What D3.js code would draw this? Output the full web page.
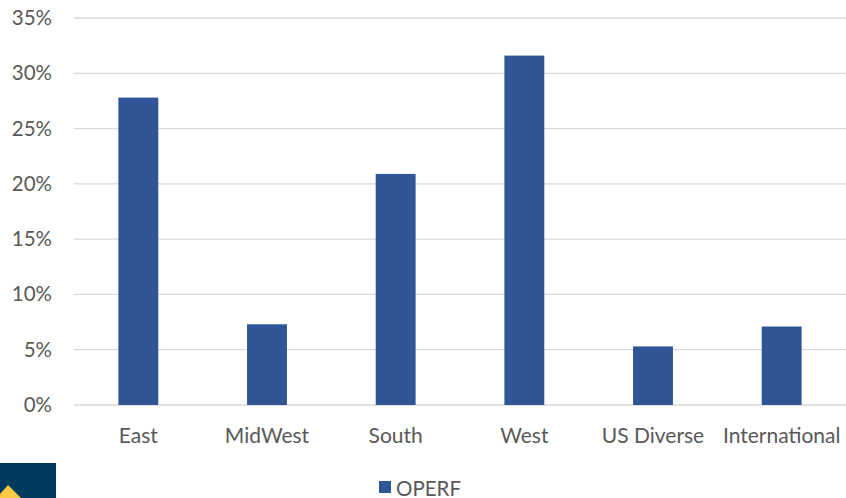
<!DOCTYPE html>
<html lang="en">
<head>
  <meta charset="UTF-8" />
  <title>OPERF by region</title>
  <script src="https://d3js.org/d3.v7.min.js"></script>
  <style>
    body { margin: 0; background: #fff; }
    svg { display: block; font-family: Lato, "Open Sans", sans-serif; }
    .tick text { fill: #595959; }
  </style>
</head>
<body>
  <svg id="chart" width="846" height="498"></svg>
  <script>
    // data
    const regions = ["East", "MidWest", "South", "West", "US Diverse", "International"];
    const operf = [0.278, 0.073, 0.209, 0.316, 0.053, 0.071];
    const yTicks = [0, 0.05, 0.10, 0.15, 0.20, 0.25, 0.30, 0.35];
    const seriesName = "OPERF";

    const svg = d3.select("#chart");
    const plotLeft = 74, plotRight = 846, plotTop = 18, plotBottom = 405;
    const barColor = "#2F5597";

    const x = d3.scaleBand().domain(regions).range([plotLeft, plotRight]).paddingInner(0.69).paddingOuter(0.345);
    const y = d3.scaleLinear().domain([0, 0.35]).range([plotBottom, plotTop]);

    // gridlines
    svg.append("g")
      .selectAll("line")
      .data(yTicks)
      .join("line")
      .attr("x1", plotLeft).attr("x2", plotRight)
      .attr("y1", d => y(d)).attr("y2", d => y(d))
      .attr("stroke", "#d9d9d9").attr("stroke-width", 1.3);

    // y labels
    const yAxis = svg.append("g")
      .attr("transform", `translate(52,0)`)
      .call(d3.axisLeft(y).tickValues(yTicks).tickFormat(d3.format(".0%")).tickSize(0).tickPadding(0));
    yAxis.select(".domain").remove();
    yAxis.selectAll("text").attr("font-size", 20.5).attr("font-family", "Lato, sans-serif");

    // bars
    svg.append("g")
      .selectAll("rect")
      .data(regions)
      .join("rect")
      .attr("x", d => x(d))
      .attr("width", x.bandwidth())
      .attr("y", (d, i) => y(operf[i]))
      .attr("height", (d, i) => plotBottom - y(operf[i]))
      .attr("fill", barColor);

    // category labels
    const xAxis = svg.append("g")
      .attr("transform", `translate(0,${plotBottom})`)
      .call(d3.axisBottom(x).tickSize(0).tickPadding(23));
    xAxis.select(".domain").remove();
    xAxis.selectAll("text").attr("font-size", 21).attr("font-family", "Lato, sans-serif");

    // legend
    const legend = svg.append("g").attr("transform", "translate(379,481)");
    legend.append("rect").attr("width", 12).attr("height", 12).attr("fill", barColor);
    legend.append("text").attr("x", 17).attr("y", 14.5)
      .attr("font-size", 20.5).attr("fill", "#595959").text(seriesName);

    // logo corner
    const logo = svg.append("g");
    logo.append("rect").attr("x", 0).attr("y", 463).attr("width", 56).attr("height", 35).attr("fill", "#003A5D");
    logo.append("path").attr("d", "M0,494 L8,485 L21,498 L0,498 Z").attr("fill", "#FFC845");
  </script>
</body>
</html>
